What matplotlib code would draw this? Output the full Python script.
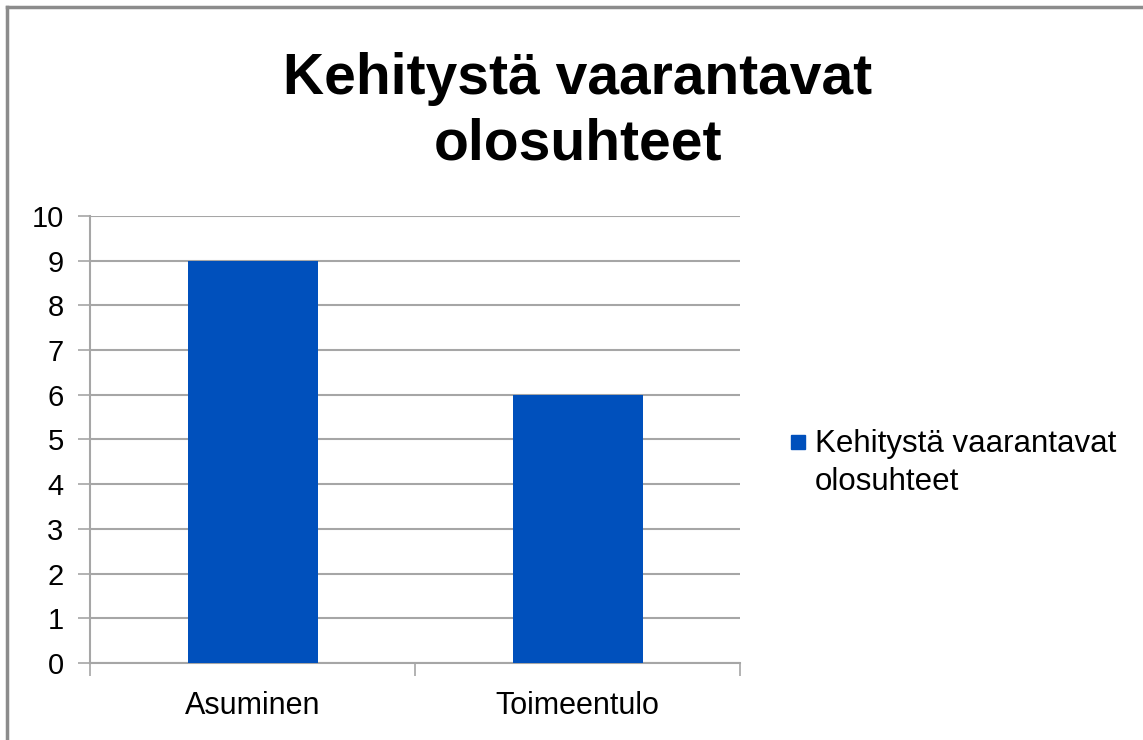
import matplotlib
matplotlib.use("Agg")
import matplotlib.pyplot as plt
from matplotlib.lines import Line2D

# data
categories = ["Asuminen", "Toimeentulo"]
values = [9, 6]
series_name = "Kehitystä vaarantavat\nolosuhteet"
title = "Kehitystä vaarantavat\nolosuhteet"
yticks = list(range(0, 11))

plt.rcParams['font.family'] = ['Liberation Sans', 'DejaVu Sans']

W, H = 1143, 740
fig = plt.figure(figsize=(W / 100, H / 100), dpi=100)

# axes placed by pixel box: x 90..740, y 216..663
ax = fig.add_axes([90 / W, 1 - 663 / H, 650 / W, 447 / H])

bar_color = "#0050BC"
bars = ax.bar(range(len(categories)), values, width=0.4, color=bar_color,
              label=series_name, zorder=3)

ax.set_xlim(-0.5, len(categories) - 0.5)
ax.set_ylim(0, 10)
ax.set_yticks(yticks)
ax.set_yticklabels([str(t) for t in yticks], fontsize=21)
ax.yaxis.grid(True, color="#A6A6A6", linewidth=1.5, zorder=0)

# category labels centred, tick marks at category boundaries
ax.set_xticks(range(len(categories)))
ax.set_xticklabels(categories, fontsize=22)
ax.tick_params(axis="x", length=0, pad=20)
ax.set_xticks([-0.5, 0.5, 1.5], minor=True)
ax.tick_params(axis="x", which="minor", length=9, width=1.2, color="#A6A6A6")
ax.tick_params(axis="y", length=9, width=1.2, color="#A6A6A6", pad=10)

for side in ["top", "right"]:
    ax.spines[side].set_visible(False)
for side in ["left", "bottom"]:
    ax.spines[side].set_color("#A6A6A6")
    ax.spines[side].set_linewidth(1.5)

fig.text(578 / W, 1 - 112 / H, title, ha="center", va="center",
         fontsize=41, fontweight="bold", linespacing=1.27)

# legend: square marker next to the first line of the label
proxy = Line2D([], [], marker="s", linestyle="none", markersize=10,
               color=bar_color)
leg = fig.legend(handles=[proxy], labels=[series_name], loc="center left",
                 bbox_to_anchor=(773 / W, 1 - 463 / H), frameon=False,
                 fontsize=22.5, handlelength=0.6, handleheight=1.1,
                 handletextpad=0.25, borderpad=0)
for t in leg.get_texts():
    t.set_linespacing(1.32)
for column in leg._legend_handle_box.get_children():
    for item in column.get_children():
        item.align = "top"

# chart border (top and left edges visible)
fig.add_artist(Line2D([7 / W, 7 / W], [0, 1 - 7 / H], transform=fig.transFigure,
                      color="#8C8C8C", linewidth=2.5))
fig.add_artist(Line2D([7 / W, 1], [1 - 7 / H, 1 - 7 / H], transform=fig.transFigure,
                      color="#8C8C8C", linewidth=2.5))

fig.savefig("out.png", dpi=100, facecolor="white")
